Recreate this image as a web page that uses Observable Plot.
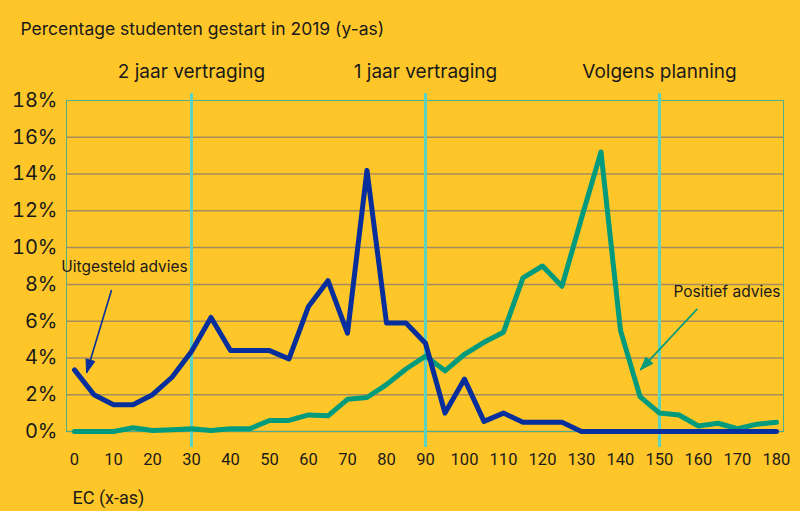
<!DOCTYPE html>
<html><head><meta charset="utf-8">
<script src="https://cdn.jsdelivr.net/npm/d3@7"></script>
<script src="https://cdn.jsdelivr.net/npm/@observablehq/plot@0.6"></script>
<style>
html,body{margin:0;padding:0;background:#FFC629;}
#chart{width:800px;height:511px;overflow:hidden;}
</style></head><body><div id="chart"></div>
<script>
// EC values (x) — one point every 5 EC
const ec = [0,5,10,15,20,25,30,35,40,45,50,55,60,65,70,75,80,85,90,95,100,105,110,115,120,125,130,135,140,145,150,155,160,165,170,175,180];
// Percentage of students, "Uitgesteld advies" (dark blue)
const uitgesteld = [3.35,2.0,1.45,1.45,2.0,2.95,4.35,6.2,4.4,4.4,4.4,3.95,6.8,8.2,5.35,14.2,5.9,5.9,4.8,1.0,2.85,0.55,1.0,0.5,0.5,0.5,0,0,0,0,0,0,0,0,0,0,0];
// Percentage of students, "Positief advies" (teal)
const positief = [0,0,0,0.2,0.05,0.1,0.15,0.05,0.15,0.15,0.6,0.6,0.9,0.85,1.75,1.85,2.55,3.4,4.1,3.3,4.2,4.85,5.4,8.35,9.0,7.9,11.6,15.2,5.5,1.9,1.0,0.9,0.3,0.45,0.15,0.4,0.5];

const xTicks = [0,10,20,30,40,50,60,70,80,90,100,110,120,130,140,150,160,170,180];
const yTicks = [0,2,4,6,8,10,12,14,16,18];
const milestones = [30,90,150];
const milestoneLabels = ["2 jaar vertraging","1 jaar vertraging","Volgens planning"];
const seriesNames = ["Uitgesteld advies","Positief advies"];
const seriesColors = ["#062e9c","#009b7d"];
// annotation anchor points (EC, %)
const labelX = [12.8, 167.3];
const labelY = [8.65, 7.3];
const arrowStartX = [9.5, 159.7];
const arrowStartY = [7.7, 6.67];
const arrowEndX = [3.1, 145.1];
const arrowEndY = [3.2, 3.35];

const title = "Percentage studenten gestart in 2019 (y-as)";
const xTitle = "EC (x-as)";

const rowsU = ec.map((e,i)=>({ec:e, pct:uitgesteld[i]}));
const rowsP = ec.map((e,i)=>({ec:e, pct:positief[i]}));
const idx = [0,1];

const baseOptions = {
  width: 800, height: 511,
  marginLeft: 66, marginRight: 17, marginTop: 100, marginBottom: 80,
  x: {domain: [-2.05, 181.8]},
  y: {domain: [0, 18]},
  style: {background: "#FFC629", fontFamily: "Inter, sans-serif", color: "#1a1a1a", overflow: "visible"}
};

// first pass: obtain the scales to orient the arrow heads in screen space
const probe = Plot.plot({...baseOptions, marks: [Plot.frame()]});
const sx = probe.scale("x"), sy = probe.scale("y");
const headAngle = idx.map(i => {
  const dx = sx.apply(arrowEndX[i]) - sx.apply(arrowStartX[i]);
  const dy = sy.apply(arrowEndY[i]) - sy.apply(arrowStartY[i]);
  return Math.atan2(dx, -dy) * 180 / Math.PI;
});
const triangleHead = {
  draw(context, l) {
    context.moveTo(0, -l);
    context.lineTo(-4.5, -l + 13);
    context.lineTo(4.5, -l + 13);
    context.closePath();
  }
};

const chart = Plot.plot({
  ...baseOptions,
  marks: [
    Plot.ruleY(yTicks.filter(d => d < 18), {stroke: "#a48d5c", strokeWidth: 1.5}),
    Plot.frame({stroke: "#4fae8c", strokeWidth: 1}),
    Plot.ruleX(milestones, {stroke: "#5ad3c0", strokeWidth: 3, insetTop: -7, insetBottom: -16}),
    Plot.line(rowsP, {x: "ec", y: "pct", stroke: seriesColors[1], strokeWidth: 5}),
    Plot.line(rowsU, {x: "ec", y: "pct", stroke: seriesColors[0], strokeWidth: 5}),
    Plot.axisY(yTicks, {tickFormat: d => d + "%", tickSize: 0, tickPadding: 9, fontSize: 20, label: null}),
    Plot.axisX(xTicks, {tickSize: 0, tickPadding: 22, fontSize: 16.5, fontFamily: "Roboto, sans-serif", label: null}),
    Plot.text(milestones, {x: d => d, text: (d, i) => milestoneLabels[i], frameAnchor: "top", dy: -23, lineAnchor: "bottom", fontSize: 19}),
    Plot.text([title], {frameAnchor: "top-left", dx: -46, dy: -66, textAnchor: "start", lineAnchor: "bottom", fontSize: 17.5}),
    Plot.text([xTitle], {frameAnchor: "bottom-left", dx: 6, dy: 72, textAnchor: "start", lineAnchor: "bottom", fontSize: 18, fontFamily: "Roboto, sans-serif"}),
    Plot.text(idx, {x: i => labelX[i], y: i => labelY[i], text: i => seriesNames[i], lineAnchor: "bottom", fontSize: 15.5}),
    Plot.link(idx, {x1: i => arrowStartX[i], y1: i => arrowStartY[i], x2: i => arrowEndX[i], y2: i => arrowEndY[i], stroke: i => seriesColors[i], strokeWidth: 1.6}),
    Plot.vector(idx, {x: i => arrowEndX[i], y: i => arrowEndY[i], rotate: i => headAngle[i], length: 13, anchor: "end", shape: triangleHead, fill: i => seriesColors[i], stroke: i => seriesColors[i], strokeWidth: 1})
  ]
});
document.getElementById("chart").appendChild(chart);
</script>
</body></html>
